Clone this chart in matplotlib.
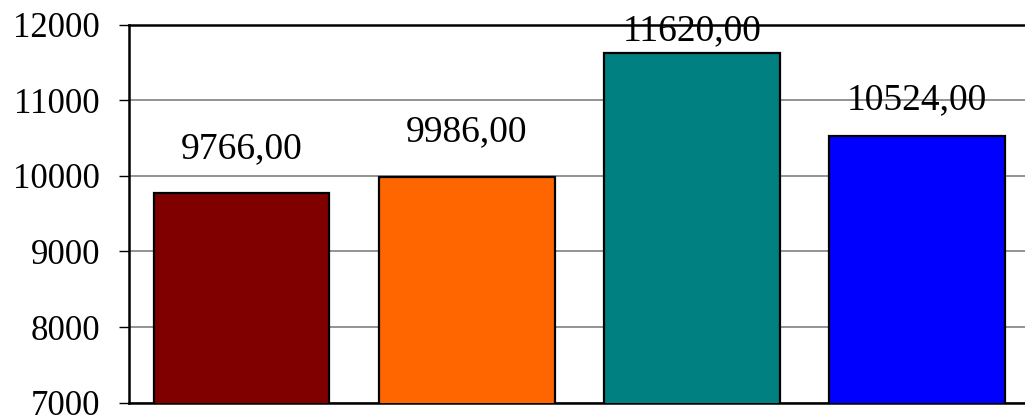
import matplotlib.pyplot as plt

# Data
categories = ['A', 'B', 'C', 'D']
values = [9766, 9986, 11620, 10524]
colors = ['#800000', '#FF6600', '#008080', '#0000FF']
yticks = [7000, 8000, 9000, 10000, 11000, 12000]

# label offsets above bar tops (points), as placed in the original
label_offsets = [20, 20, 4, 14]

plt.rcParams['font.family'] = 'Liberation Serif'

fig = plt.figure(figsize=(10.25, 4.16), dpi=100)
ax = fig.add_axes([0.1259, 0.032, 0.8741, 0.909])

x = range(len(categories))
bars = ax.bar(x, values, width=0.78, color=colors, edgecolor='black', linewidth=1.6, zorder=3)

for bar, v, off in zip(bars, values, label_offsets):
    ax.annotate('{:.2f}'.format(v).replace('.', ','),
                (bar.get_x() + bar.get_width() / 2, v),
                xytext=(0, off), textcoords='offset points',
                ha='center', va='bottom', fontsize=27, zorder=4)

ax.set_ylim(7000, 12000)
ax.set_xlim(-0.5, 3.48)
ax.set_yticks(yticks)
ax.tick_params(axis='y', labelsize=25, length=7, width=1, direction='out', pad=14)
ax.set_xticks([])
ax.yaxis.grid(True, color='#808080', linewidth=1.2, zorder=0)

for side in ['left', 'top', 'bottom']:
    ax.spines[side].set_linewidth(1.8)
    ax.spines[side].set_color('black')
ax.spines['right'].set_visible(False)

fig.savefig('out.png', dpi=100)
